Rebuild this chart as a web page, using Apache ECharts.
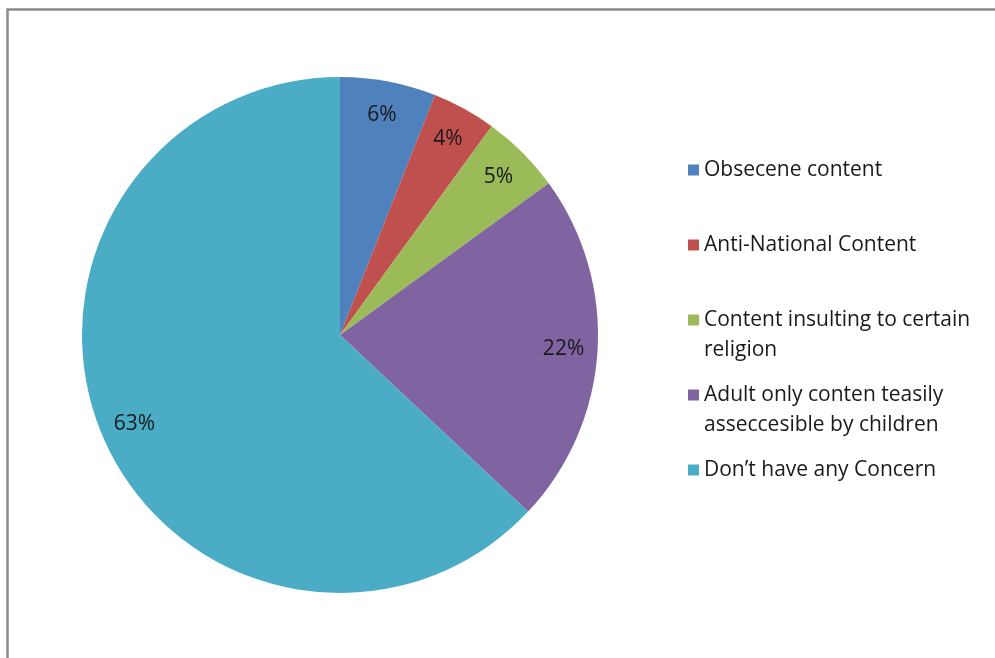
<!DOCTYPE html>
<html>
<head>
<meta charset="utf-8">
<script src="https://cdn.jsdelivr.net/npm/echarts@6/dist/echarts.min.js"></script>
<style>
  html, body { margin: 0; padding: 0; background: #fff; }
  #main { width: 995px; height: 658px; }
</style>
</head>
<body>
<div id="main"></div>
<script>
// slice data (percent)
const categories = [
  "Obsecene content",
  "Anti-National Content",
  "Content insulting to certain\nreligion",
  "Adult only conten teasily\nasseccesible by children",
  "Don\u2019t have any Concern"
];
const values = [6, 4, 5, 22, 63];
const colors = ["#4F81BD", "#C0504D", "#9BBB59", "#8064A2", "#4BACC6"];

const FONT = "Open Sans";
const pieData = categories.map((name, i) => ({ name: name, value: values[i] }));

// one legend per entry so the first lines sit 75px apart like the original
const legendTops = [155, 230, 275, 350, 455];
const legends = categories.map((name, i) => {
  const twoLine = name.indexOf("\n") >= 0;
  return {
    orient: "vertical",
    left: 688,
    top: legendTops[i],
    padding: 0,
    itemWidth: 11,
    itemHeight: 11,
    icon: "rect",
    selectedMode: false,
    data: [name],
    // empty first line keeps the swatch level with the first text line
    formatter: twoLine ? (n) => " \n" + n : "{name}",
    textStyle: {
      fontFamily: FONT,
      fontSize: 21,
      lineHeight: 30,
      color: "#1a1a1a"
    }
  };
});

var chart = echarts.init(document.getElementById("main"));
chart.setOption({
  animation: false,
  color: colors,
  legend: legends,
  graphic: [{
    type: "rect",
    shape: { x: 7.5, y: 9.5, width: 1000, height: 700 },
    style: { fill: "none", stroke: "#8a8a8a", lineWidth: 2.5 },
    silent: true
  }],
  series: [
    {
      name: "concern",
      type: "pie",
      center: [340, 335],
      radius: 258,
      startAngle: 90,
      clockwise: true,
      label: { show: false },
      labelLine: { show: false },
      itemStyle: { borderWidth: 0 },
      emphasis: { disabled: true },
      data: pieData
    },
    {
      // transparent ring only used to place the labels near the rim
      name: "labels",
      type: "pie",
      center: [340, 335],
      radius: [184, 258],
      startAngle: 90,
      silent: true,
      emphasis: { disabled: true },
      itemStyle: { color: "rgba(0,0,0,0)", borderWidth: 0 },
      label: {
        show: true,
        position: "inside",
        formatter: "{c}%",
        fontFamily: FONT,
        fontSize: 21,
        color: "#1a1a1a"
      },
      labelLine: { show: false },
      data: pieData
    }
  ]
});
</script>
</body>
</html>
